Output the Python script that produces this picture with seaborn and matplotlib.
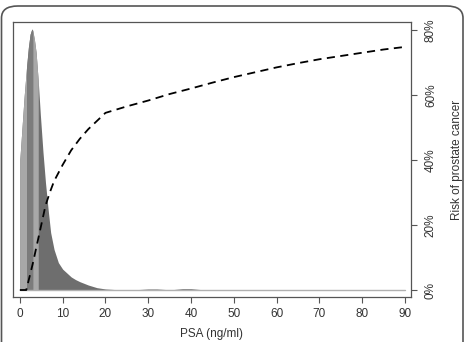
import matplotlib
matplotlib.use("Agg")
import matplotlib.pyplot as plt
from matplotlib.patches import FancyBboxPatch
from matplotlib.ticker import FuncFormatter
import numpy as np
import pandas as pd
import seaborn as sns

# PSA distribution (relative density, peak = 1)
psa_x = [0, 0.25, 0.5, 1.0, 1.6, 2.0, 2.4, 2.8, 3.0, 3.4, 3.8, 4.3, 4.8, 5.4, 6.0,
         6.6, 7.2, 8.0, 9.0, 10, 11, 12, 13, 14, 16, 18, 20, 22, 25, 28, 30, 32,
         34, 36, 38, 40, 42, 45, 90]
psa_density = [0.50, 0.56, 0.62, 0.74, 0.86, 0.93, 0.98, 1.0, 0.995, 0.96, 0.91,
               0.80, 0.67, 0.53, 0.41, 0.31, 0.22, 0.155, 0.105, 0.08, 0.065,
               0.05, 0.04, 0.032, 0.019, 0.009, 0.004, 0.002, 0.001, 0.002,
               0.004, 0.004, 0.002, 0.002, 0.005, 0.005, 0.002, 0.0, 0.0]

# risk of prostate cancer (%) by PSA
risk_psa = [0, 1.5, 3, 4, 5, 6, 7, 8, 10, 12, 14, 16, 18, 20, 25, 30, 35, 40, 45,
            50, 55, 60, 65, 70, 75, 80, 85, 90]
risk_pct = [0, 0, 8, 14, 20, 26, 30, 33.5, 38.5, 43, 46.5, 49.5, 52, 54.5, 56.5,
            58.3, 60.3, 62, 63.8, 65.5, 67, 68.5, 69.8, 71, 72, 73, 74, 74.8]

# light bands under the density
bands = [(0, 1.6), (3.0, 4.3)]

sns.set_theme(style="white")
plt.rcParams['font.family'] = ['Liberation Sans', 'DejaVu Sans']

fig = plt.figure(figsize=(4.67, 3.42), dpi=100)
W, H = 467, 342
ax = fig.add_axes([13 / W, (H - 297) / H, 398 / W, 275 / H])

x = np.array(psa_x)
d = np.array(psa_density)
ax.fill_between(x, 0, d, color="#6e6e6e", linewidth=0)
for lo, hi in bands:
    m = (x >= lo) & (x <= hi)
    ax.fill_between(x, 0, d, where=m, color="#a8a8a8", linewidth=0)
m = (x >= 1.6) & (x <= 3.0)
ax.fill_between(x, 0, d, where=m, color="#7c7c7c", linewidth=0)
ax.plot([0, 90], [0, 0], color="#b0b0b0", lw=1)

ax.set_xlim(-1.6, 91.4)
ax.set_ylim(-7 / 261, 1 + 7 / 261)
ax.set_yticks([])
ax.set_xticks(range(0, 91, 10))
ax.set_xlabel("PSA (ng/ml)", fontsize=8.5, color="#333333", labelpad=6)
ax.tick_params(axis="x", direction="out", length=4, width=0.8, colors="#555555",
               labelsize=8.5, labelcolor="#333333", pad=4, bottom=True)
for s in ax.spines.values():
    s.set_color("#555555")
    s.set_linewidth(0.9)

ax2 = ax.twinx()
df = pd.DataFrame({"psa": risk_psa, "risk": risk_pct})
sns.lineplot(data=df, x="psa", y="risk", ax=ax2, color="black", lw=1.3,
             dashes=False, linestyle=(0, (4.5, 3)))
ax2.set_ylim(-2.15, 82.46)
ax2.set_yticks([0, 20, 40, 60, 80])
ax2.yaxis.set_major_formatter(FuncFormatter(lambda v, p: f"{v:.0f}%"))
ax2.tick_params(axis="y", direction="out", length=4, width=0.8, colors="#555555",
                labelsize=8.5, labelcolor="#333333", pad=6, right=True,
                labelrotation=90)
for lab in ax2.get_yticklabels():
    lab.set_va("center")
ax2.set_ylabel("Risk of prostate cancer", fontsize=8.5, color="#333333",
               rotation=90, labelpad=10)
ax2.yaxis.set_label_position("right")
ax2.set_xlabel("")
ax2.set_xlim(-1.6, 91.4)
for s in ax2.spines.values():
    s.set_visible(False)

frame = FancyBboxPatch((1.5 / W, -20 / H), 461.5 / W, (H - 6 + 20) / H,
                       boxstyle="round,pad=0,rounding_size=0.035",
                       transform=fig.transFigure, fill=False,
                       edgecolor="#555555", linewidth=1.2, clip_on=False)
fig.patches.append(frame)

fig.savefig("out.png", dpi=100)
